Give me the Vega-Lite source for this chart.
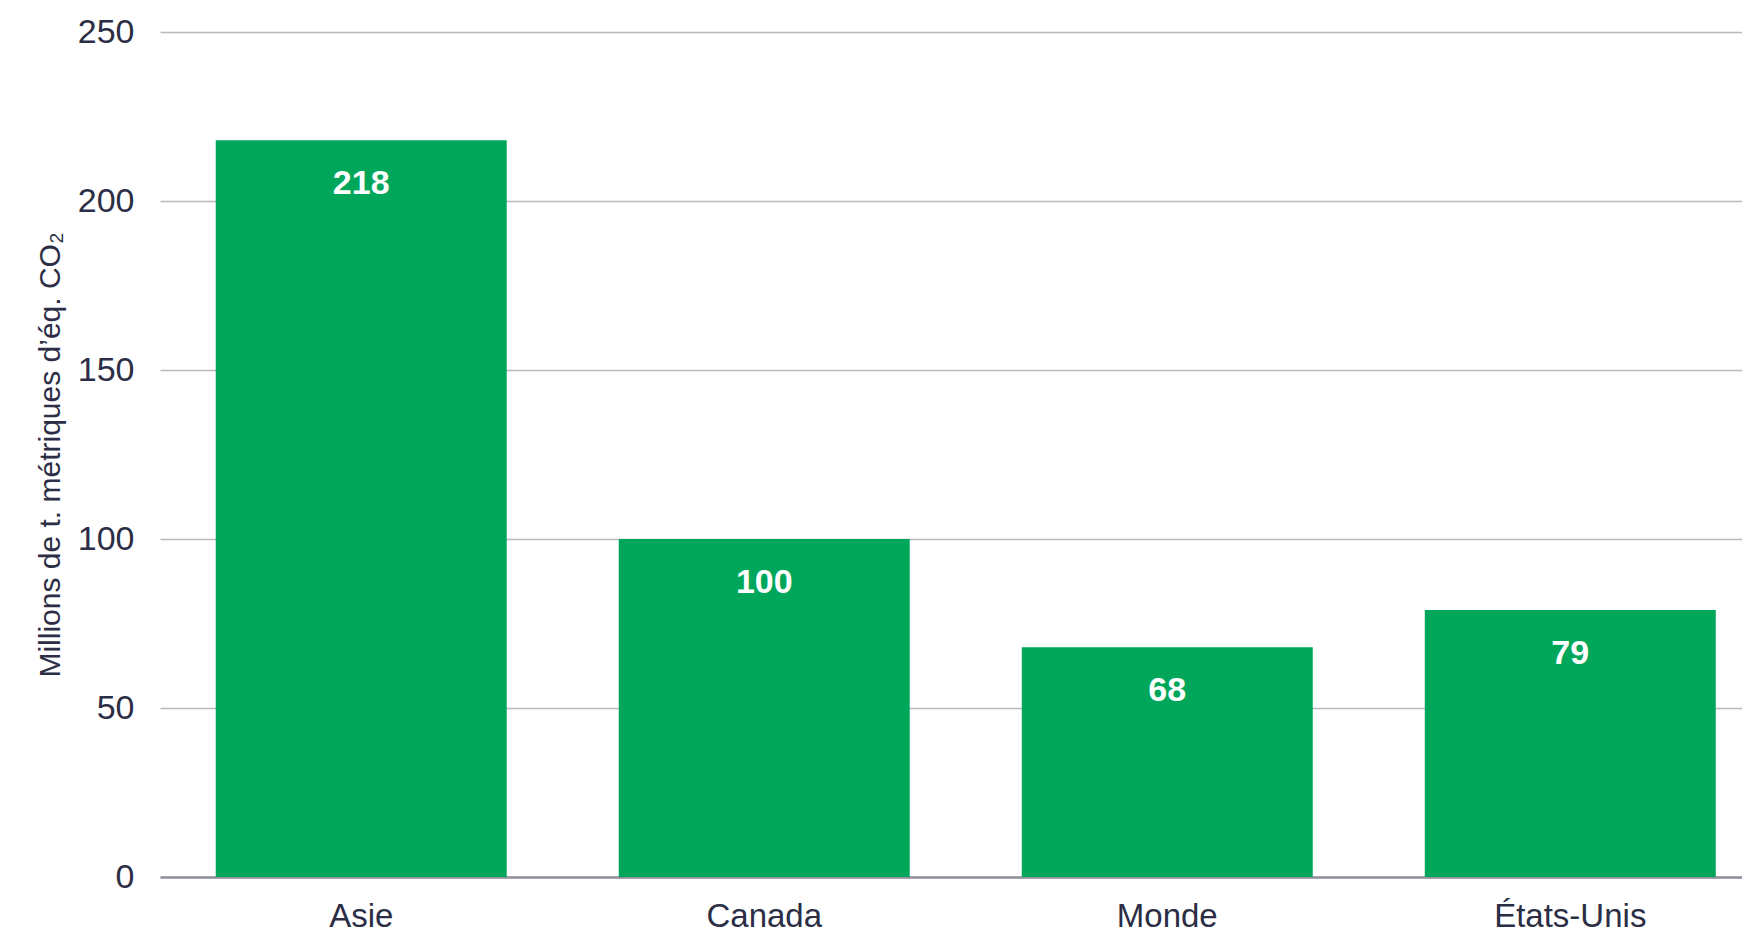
{
  "$schema": "https://vega.github.io/schema/vega-lite/v6.json",
  "autosize": {"type": "none"},
  "padding": {"left": 160, "top": 32, "right": 0, "bottom": 61},
  "width": 1582,
  "height": 845,
  "background": "white",
  "config": {
    "view": {"stroke": null},
    "font": "Liberation Sans"
  },
  "data": {
    "values": [
      {"region": "Asie", "value": 218},
      {"region": "Canada", "value": 100},
      {"region": "Monde", "value": 68},
      {"region": "États-Unis", "value": 79}
    ]
  },
  "encoding": {
    "x": {
      "field": "region",
      "type": "nominal",
      "sort": null,
      "scale": {"paddingInner": 0.278, "paddingOuter": 0.1017, "align": 0.68},
      "axis": {
        "title": null,
        "labelAngle": 0,
        "labelFontSize": 33,
        "labelColor": "#2b2e45",
        "labelPadding": 23,
        "ticks": false,
        "domain": true,
        "domainColor": "#8f8f9c",
        "domainWidth": 2.5,
        "grid": false
      }
    },
    "y": {
      "field": "value",
      "type": "quantitative",
      "scale": {"domain": [0, 250], "nice": false},
      "axis": {
        "values": [0, 50, 100, 150, 200, 250],
        "title": "Millions de t. métriques d’éq. CO₂",
        "titleFontSize": 30,
        "titleFontWeight": "normal",
        "titleColor": "#2b2e45",
        "titlePadding": 12,
        "labelFontSize": 34,
        "labelColor": "#2b2e45",
        "labelPadding": 26,
        "ticks": false,
        "domain": false,
        "grid": true,
        "gridColor": "#b9b9c3",
        "gridWidth": 1.5
      }
    }
  },
  "layer": [
    {
      "mark": {"type": "bar", "color": "#00a659"}
    },
    {
      "mark": {
        "type": "text",
        "color": "white",
        "fontSize": 34,
        "fontWeight": "bold",
        "baseline": "middle",
        "dy": 44
      },
      "encoding": {
        "text": {"field": "value", "type": "quantitative"}
      }
    }
  ]
}
